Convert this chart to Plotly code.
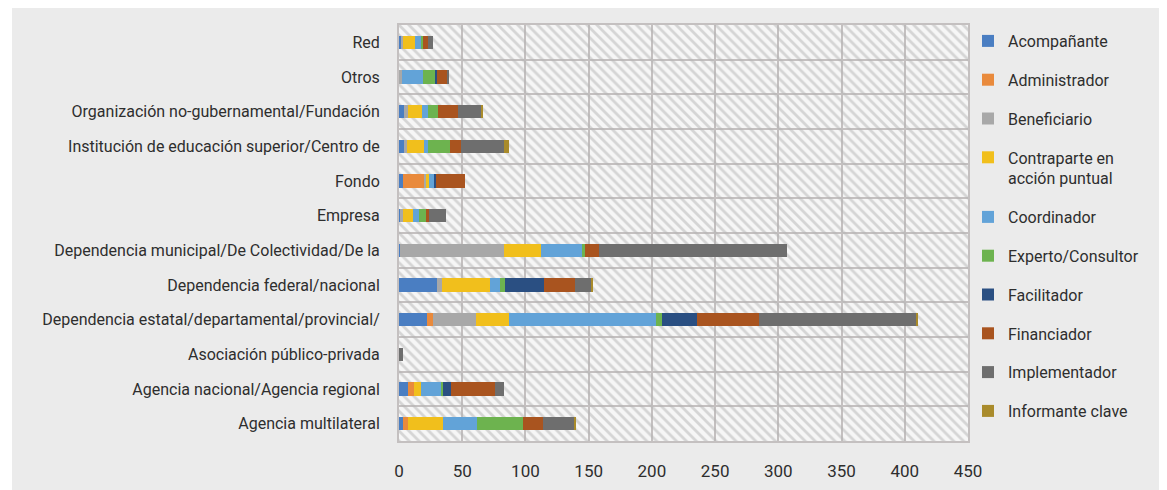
import plotly.graph_objects as go

# categories, bottom to top
categories = [
    "Agencia multilateral",
    "Agencia nacional/Agencia regional",
    "Asociación público-privada",
    "Dependencia estatal/departamental/provincial/",
    "Dependencia federal/nacional",
    "Dependencia municipal/De Colectividad/De la",
    "Empresa",
    "Fondo",
    "Institución de educación superior/Centro de",
    "Organización no-gubernamental/Fundación",
    "Otros",
    "Red",
]

acompanante   = [3, 7, 0, 22, 30, 1, 1, 3, 4, 4, 0, 2]
administrador = [4, 5, 0, 5, 0, 0, 0, 17, 0, 0, 0, 0]
beneficiario  = [0, 0, 0, 34, 4, 82, 2, 1, 2, 3, 2, 1]
contraparte   = [28, 5, 0, 26, 38, 29, 8, 3, 14, 11, 0, 10]
coordinador   = [27, 16, 0, 116, 8, 33, 5, 4, 3, 5, 17, 4]
experto       = [36, 2, 0, 5, 4, 2, 5, 0, 17, 8, 10, 2]
facilitador   = [0, 6, 0, 28, 31, 0, 0, 1, 0, 0, 1, 0]
financiador   = [16, 35, 0, 49, 24, 11, 3, 23, 9, 16, 8, 4]
implementador = [25, 7, 3, 124, 13, 149, 13, 0, 34, 18, 1, 4]
informante    = [1, 0, 0, 1, 1, 0, 0, 0, 4, 1, 0, 0]

series = [
    ("Acompañante", acompanante, "#4a7ec2"),
    ("Administrador", administrador, "#e98a3c"),
    ("Beneficiario", beneficiario, "#a8a8a8"),
    ("Contraparte en<br>acción puntual", contraparte, "#f1bf1c"),
    ("Coordinador", coordinador, "#62a3d8"),
    ("Experto/Consultor", experto, "#6db34f"),
    ("Facilitador", facilitador, "#2a4f82"),
    ("Financiador", financiador, "#a9541f"),
    ("Implementador", implementador, "#6e6e6e"),
    ("Informante clave", informante, "#a98b2b"),
]

x_max = 450
font_family = "Roboto, sans-serif"
grid_color = "#c4c0c0"

fig = go.Figure()

# hatched background of the plot area
fig.add_trace(go.Bar(
    x=[x_max] * len(categories), y=categories, orientation="h",
    width=1, showlegend=False, hoverinfo="skip",
    marker=dict(color="rgba(0,0,0,0)", line=dict(width=0),
                pattern=dict(shape="\\", fgcolor="#b3b3b3",
                             bgcolor="rgba(0,0,0,0)", size=7, solidity=0.4)),
    xaxis="x", yaxis="y",
))

for name, vals, color in series:
    fig.add_trace(go.Bar(
        x=vals, y=categories, orientation="h", name=name,
        legendgroup=name, marker=dict(color=color, line=dict(width=0)),
        xaxis="x2", yaxis="y2",
    ))

fig.update_layout(
    width=1167, height=490,
    barmode="stack", bargap=0.62,
    paper_bgcolor="#ebebeb", plot_bgcolor="#f6f6f6",
    margin=dict(l=391, r=207, t=17, b=57),
    font=dict(family=font_family, size=16, color="#2e2e2e"),
    xaxis=dict(range=[0, x_max], dtick=50, showgrid=True, gridcolor=grid_color,
               gridwidth=2, showline=True, mirror=True, linecolor=grid_color,
               linewidth=2, zeroline=False, ticks="", ticklabelstandoff=14,
               tickfont=dict(size=17)),
    yaxis=dict(type="category", categoryorder="array", categoryarray=categories,
               range=[-0.5, len(categories) - 0.5], tickson="boundaries",
               showgrid=True, gridcolor=grid_color, gridwidth=2, showline=True,
               mirror=True, linecolor=grid_color, linewidth=2, ticks="",
               ticklabelstandoff=14),
    xaxis2=dict(overlaying="x", range=[0, x_max], showgrid=False,
                showticklabels=False, zeroline=False),
    yaxis2=dict(overlaying="y", type="category", categoryorder="array",
                categoryarray=categories, range=[-0.5, len(categories) - 0.5],
                showgrid=False, showticklabels=False),
    legend=dict(x=1.0, xanchor="left", y=1 + 1 / 416, yanchor="top",
                traceorder="grouped", tracegroupgap=15, valign="top",
                maxheight=480, bgcolor="rgba(0,0,0,0)", font=dict(size=16)),
    shapes=[
        dict(type="rect", xref="paper", yref="paper", x0=-391 / 569, x1=-387 / 569,
             y0=-57 / 416, y1=433 / 416, fillcolor="white", line=dict(width=0),
             layer="below"),
    ],
)

fig.write_html("out.html")
